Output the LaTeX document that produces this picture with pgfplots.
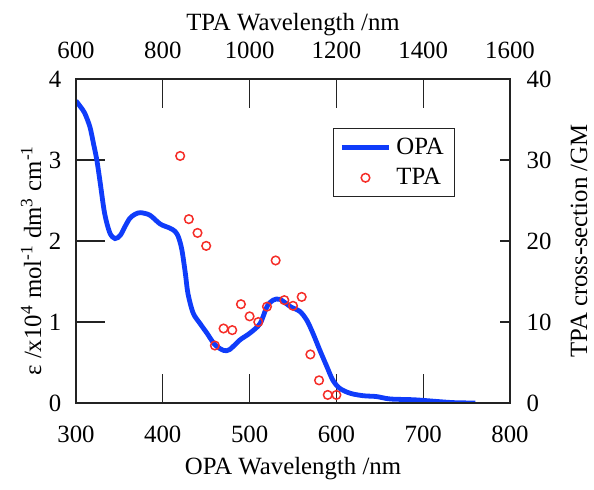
\documentclass[border=0pt]{standalone}
\usepackage{fontspec}
\setmainfont{Liberation Serif}
\usepackage{pgfplots}
\pgfplotsset{compat=1.18}
\definecolor{opablue}{RGB}{15,60,250}
\definecolor{tpared}{RGB}{245,45,40}
\definecolor{axgray}{RGB}{35,35,35}
\begin{document}
\fontsize{12.4}{14}\selectfont
\begin{tikzpicture}
\pgfplotsset{
  every axis/.append style={
    scale only axis, width=217pt, height=162pt,
    axis line style={axgray, line width=0.7pt},
    tick align=inside,
    major tick length=0pt,
    minor tick num=0,
    ticklabel style={font=\fontsize{12.4}{14}\selectfont},
    label style={font=\fontsize{12.4}{14}\selectfont},
    /pgf/number format/assume math mode=true,
    /pgf/number format/1000 sep={},
  },
}
\begin{axis}[
  xmin=300, xmax=800, ymin=0, ymax=4,
  xtick={300,400,500,600,700,800},
  ytick={0,1,2,3,4},
  xtick pos=left, ytick pos=left,
  xticklabel pos=left, yticklabel pos=left,
  xticklabel style={yshift=-7pt},
  yticklabel style={xshift=-3pt},
  xlabel={OPA Wavelength /nm},
  xlabel style={at={(rel axis cs:0.5,-0.222)}, anchor=base},
  ylabel={ε /x10\textsuperscript{4} mol\textsuperscript{-1} dm\textsuperscript{3} cm\textsuperscript{-1}},
  ylabel style={at={(rel axis cs:-0.0806,0.44)}, anchor=base},
]
\coordinate (bbbl) at (rel axis cs:-0.1751,-0.2654);
\coordinate (bbtr) at (rel axis cs:1.1935,1.2438);
\pgfplotsinvokeforeach{400,500,600,700}{
  \draw[axgray, line width=0.7pt] (axis cs:#1,0) -- ++(0pt,14.5pt);
  \draw[axgray, line width=0.7pt] (axis cs:#1,4) -- ++(0pt,-14.5pt);
}
\pgfplotsinvokeforeach{1,2,3}{
  \draw[axgray, line width=0.7pt] (axis cs:300,#1) -- ++(14.5pt,0pt);
  \draw[axgray, line width=0.7pt] (axis cs:800,#1) -- ++(-5pt,0pt);
}
\addplot[opablue, line width=2.4pt, smooth, tension=0.5] coordinates {
(300,3.73) (305,3.66) (310,3.58) (316,3.41) (320,3.21) (324,3.00) (328,2.71)
(333,2.34) (339,2.10) (345,2.03) (351,2.07) (356,2.17) (362,2.28) (368,2.33)
(374,2.35) (385,2.32) (397,2.21) (408,2.16) (414,2.12) (418,2.05) (422,1.89)
(426,1.60) (429,1.35) (435,1.11) (443,0.98) (451,0.86) (460,0.72) (470,0.65)
(477,0.66) (489,0.78) (500,0.86) (512,0.98) (520,1.19) (527,1.27) (535,1.28)
(547,1.19) (558,1.13) (566,1.02) (573,0.86) (581,0.65) (589,0.45) (596,0.28)
(604,0.18) (616,0.12) (631,0.09) (646,0.08) (662,0.05) (690,0.04) (715,0.02)
(735,0.005) (760,0.0)
};
\end{axis}
\begin{axis}[
  xmin=600, xmax=1600, ymin=0, ymax=40,
  xtick={600,800,1000,1200,1400,1600},
  ytick={0,10,20,30,40},
  xtick pos=right, xticklabel pos=right,
  ytick pos=right, yticklabel pos=right,
  xticklabel style={yshift=6pt},
  yticklabel style={xshift=4pt},
  xlabel={TPA Wavelength /nm},
  xlabel style={at={(rel axis cs:0.5,1.151)}, anchor=base},
  ylabel={TPA cross-section /GM},
  ylabel style={at={(rel axis cs:1.1774,0.5)}, anchor=base},
  legend style={at={(rel axis cs:0.592,0.849)}, anchor=north west,
    draw=axgray, line width=0.65pt, font=\fontsize{12.4}{14}\selectfont,
    inner xsep=3pt, inner ysep=2pt, row sep=0pt,
    nodes={inner sep=2.5pt}},
  legend cell align=left,
  legend image code/.code={\draw[mark repeat=2,mark phase=2,#1] plot coordinates {(0pt,0pt)(11.75pt,0pt)(23.5pt,0pt)};},
]
\addlegendimage{opablue, line width=2.4pt}
\addlegendentry{OPA}
\addplot[only marks, mark=o, mark size=2.15pt, tpared, mark options={line width=0.75pt}] coordinates {
(840,30.5) (860,22.7) (880,21.0) (900,19.4) (920,7.1) (940,9.2) (960,9.0)
(980,12.2) (1000,10.7) (1020,10.0) (1040,11.9) (1060,17.6) (1080,12.7)
(1100,12.0) (1120,13.1) (1140,6.0) (1160,2.8) (1180,1.0) (1200,1.0)
};
\addlegendentry{TPA}
\end{axis}
\pgfresetboundingbox
\path (bbbl) rectangle (bbtr);
\end{tikzpicture}
\end{document}
